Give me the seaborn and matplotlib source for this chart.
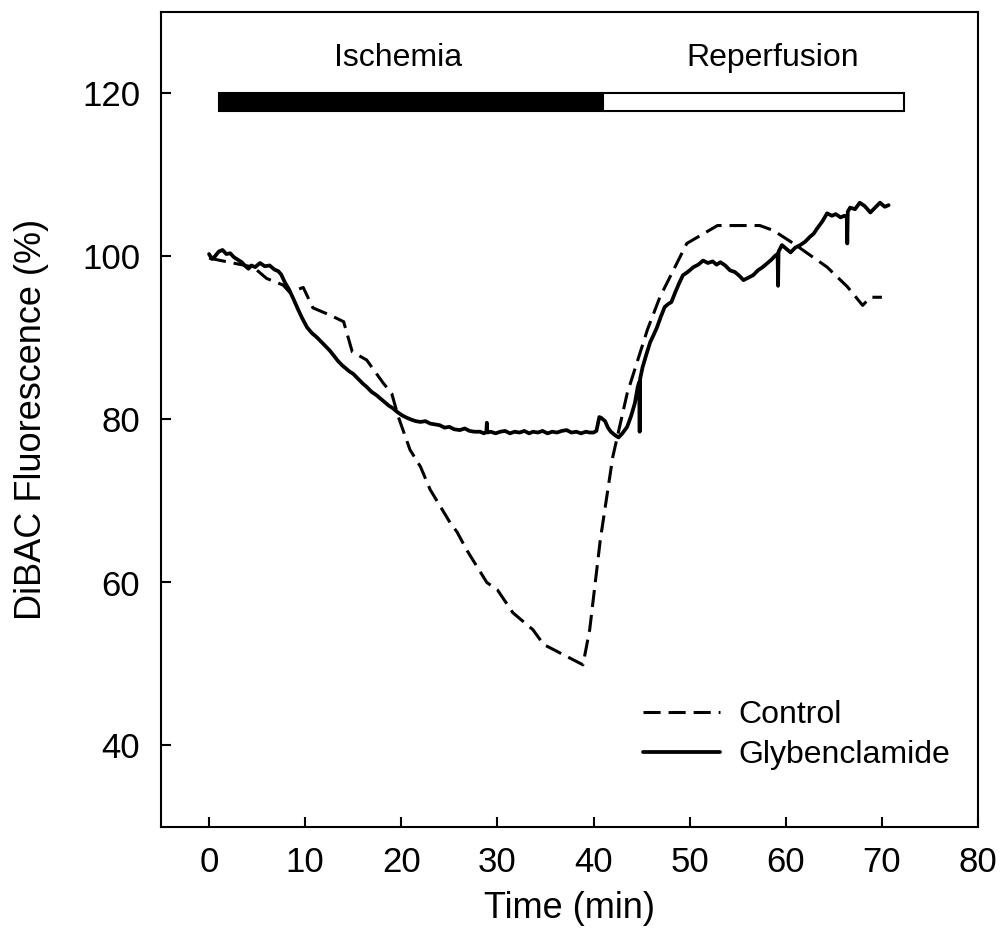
import matplotlib
matplotlib.use("Agg")
import matplotlib.pyplot as plt
import seaborn as sns
import pandas as pd

# ---- data ----
ctrl_t = [0, 2.5, 4.6, 6.0, 7.7, 8.4, 9.8, 10.8, 12.6, 14.0, 14.9, 16.4, 18.1, 19.0,
          19.7, 20.9, 22.0, 23.0, 25.1, 25.8, 26.8, 28.9, 30.0, 31.6, 33.7, 34.8,
          38.9, 39.6, 40.7, 42.0, 43.5, 45.6, 46.9, 49.7, 52.9, 57.3, 58.7, 60.8,
          64.3, 66.4, 68.0, 68.8, 70.0]
ctrl_v = [99.8, 99.2, 98.7, 97.3, 96.5, 95.6, 96.2, 93.7, 92.8, 92.0, 88.3, 87.3,
          84.5, 83.2, 80.3, 76.3, 74.2, 71.4, 67.3, 66.2, 64.0, 60.0, 59.1, 56.3,
          54.2, 52.4, 49.9, 54.2, 65.2, 75.4, 83.2, 91.0, 95.0, 101.6, 103.8, 103.8,
          103.2, 101.6, 98.7, 96.3, 94.0, 95.0, 95.0]

gly_t = [0, 0.3, 0.6, 1.0, 1.4, 1.8, 2.2, 2.6, 3.0, 3.4, 3.8, 4.1, 4.4, 4.8, 5.3,
         5.8, 6.3, 6.8, 7.2, 7.5, 7.9, 8.3, 8.7, 9.0, 9.3, 9.7, 10.2, 10.7, 11.2,
         11.7, 12.2, 12.6, 13.0, 13.4, 13.8, 14.2, 14.6, 15.0, 15.5, 16.0, 16.4,
         16.9, 17.4, 17.8, 18.3, 18.7, 19.1, 19.6, 20.1, 20.6, 21.0, 21.5, 22.0,
         22.5, 23.0, 23.5, 24.0, 24.5, 25.0, 25.5, 26.1, 26.6, 27.1, 27.6, 28.2,
         28.6, 28.85, 28.9, 28.95, 29.3, 29.8, 30.3, 30.8, 31.3, 31.8, 32.3, 32.8,
         33.3, 33.7, 34.2, 34.7, 35.2, 35.7, 36.2, 36.7, 37.2, 37.7, 38.2, 38.7,
         39.2, 39.6, 40.0, 40.3, 40.6, 40.8, 41.2, 41.5, 41.8, 42.2, 42.6, 43.0,
         43.5, 43.9, 44.3, 44.6, 44.75, 44.8, 44.85, 45.1, 45.5, 45.9, 46.3, 46.6,
         47.0, 47.4, 47.8, 48.1, 48.5, 48.9, 49.3, 49.8, 50.4, 50.9, 51.4, 51.9,
         52.4, 52.8, 53.2, 53.7, 54.2, 54.7, 55.2, 55.6, 56.1, 56.6, 57.1, 57.6,
         58.1, 58.5, 58.9, 59.15, 59.2, 59.25, 59.6, 60.0, 60.5, 61.0, 61.5, 62.0,
         62.5, 62.9, 63.3, 63.8, 64.3, 64.8, 65.2, 65.7, 66.1, 66.35, 66.4, 66.45,
         66.7, 67.2, 67.7, 68.2, 68.8, 69.3, 69.8, 70.3, 70.7]
gly_v = [100.3, 99.7, 100.0, 100.6, 100.8, 100.3, 100.4, 99.9, 99.6, 99.3, 98.8,
         98.5, 98.9, 98.7, 99.2, 98.8, 98.9, 98.4, 98.2, 97.8, 96.8, 96.0, 95.0,
         94.2, 93.4, 92.4, 91.3, 90.6, 90.1, 89.5, 88.9, 88.4, 87.8, 87.2, 86.7,
         86.3, 85.9, 85.6, 85.0, 84.4, 84.0, 83.4, 83.0, 82.6, 82.1, 81.7, 81.4,
         80.9, 80.5, 80.2, 80.0, 79.8, 79.7, 79.8, 79.5, 79.4, 79.3, 79.0, 79.1,
         78.8, 78.7, 78.9, 78.6, 78.5, 78.5, 78.3, 78.5, 79.6, 78.4, 78.5, 78.3,
         78.5, 78.6, 78.3, 78.5, 78.4, 78.6, 78.3, 78.5, 78.4, 78.6, 78.3, 78.5,
         78.4, 78.6, 78.7, 78.4, 78.5, 78.3, 78.5, 78.4, 78.4, 78.6, 80.3, 80.2,
         79.8, 79.0, 78.5, 78.1, 77.8, 78.3, 79.1, 80.4, 82.0, 84.0, 84.6, 78.5,
         85.0, 86.4, 88.0, 89.5, 90.5, 91.3, 92.6, 93.8, 94.2, 94.4, 95.6, 96.7,
         97.7, 98.1, 98.7, 99.0, 99.5, 99.2, 99.4, 99.0, 99.3, 98.9, 98.3, 98.1,
         97.6, 97.1, 97.4, 97.7, 98.3, 98.7, 99.2, 99.6, 100.1, 100.3, 96.4, 100.6,
         101.4, 101.0, 100.5, 101.1, 101.4, 101.8, 102.4, 102.8, 103.5, 104.3,
         105.3, 105.0, 105.2, 104.8, 105.0, 104.8, 101.6, 105.5, 106.0, 105.8,
         106.6, 106.2, 105.4, 106.0, 106.6, 106.1, 106.3]

phase_names = ["Ischemia", "Reperfusion"]
phase_start = [1.0, 41.0]
phase_end = [41.0, 72.3]
phase_label_x = [19.7, 58.6]

x_ticks = [0, 10, 20, 30, 40, 50, 60, 70, 80]
y_ticks = [40, 60, 80, 100, 120]

# ---- figure ----
sns.set_style("ticks")
plt.rcParams['font.family'] = ['Liberation Sans', 'DejaVu Sans']
plt.rcParams['text.color'] = 'black'
plt.rcParams['axes.labelcolor'] = 'black'
plt.rcParams['xtick.color'] = 'black'
plt.rcParams['ytick.color'] = 'black'

fig = plt.figure(figsize=(10.02, 9.46), dpi=100)
ax = fig.add_axes([161 / 1002, 1 - 827 / 946, 817 / 1002, 815 / 946])

df_ctrl = pd.DataFrame({"t": ctrl_t, "v": ctrl_v})
df_gly = pd.DataFrame({"t": gly_t, "v": gly_v})

sns.lineplot(data=df_ctrl, x="t", y="v", ax=ax, color="black", lw=2.2,
             linestyle=(0, (5.6, 2.6)), estimator=None, sort=False, label="Control")
sns.lineplot(data=df_gly, x="t", y="v", ax=ax, color="black", lw=2.7,
             estimator=None, sort=False, label="Glybenclamide")

# phase bar
widths = [e - s for s, e in zip(phase_start, phase_end)]
ax.barh(y=[118.9, 118.9], width=widths, left=phase_start, height=2.2,
        color=["black", "white"], edgecolor="black", linewidth=1.5, zorder=3)
for name, xp in zip(phase_names, phase_label_x):
    ax.text(xp, 124.4, name, ha="center", va="center", fontsize=23)

ax.set_xlim(-5, 80)
ax.set_ylim(30, 130)
ax.set_xticks(x_ticks)
ax.set_yticks(y_ticks)
ax.tick_params(direction="in", length=7, width=1.5, labelsize=25, pad=15)
ax.tick_params(axis="x", pad=14)
for sp in ax.spines.values():
    sp.set_linewidth(1.5)
    sp.set_color("black")

ax.set_xlabel("Time (min)", fontsize=26, labelpad=8)
ax.set_ylabel("DiBAC Fluorescence (%)", fontsize=26, labelpad=24)

leg = ax.legend(loc="center left", bbox_to_anchor=(0.59, 0.113), frameon=False,
                fontsize=23, handlelength=2.4, handletextpad=0.6,
                labelspacing=0.3, borderpad=0, borderaxespad=0)

fig.savefig("out.png", dpi=100)
